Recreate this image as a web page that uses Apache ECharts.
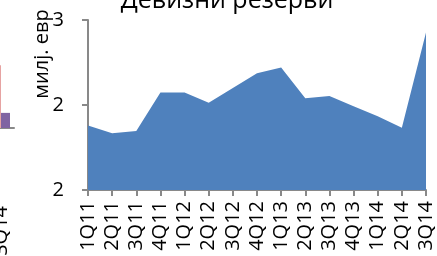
<!DOCTYPE html>
<html>
<head>
<meta charset="utf-8">
<script src="https://cdn.jsdelivr.net/npm/echarts@6/dist/echarts.min.js"></script>
<style>
  html, body { margin: 0; padding: 0; background: #fff; }
  #chart { width: 437px; height: 256px; }
</style>
</head>
<body>
<div id="chart"></div>
<script>
// quarters and reserves (bn EUR)
const quarters = ['1Q11', '2Q11', '3Q11', '4Q11', '1Q12', '2Q12', '3Q12', '4Q12',
  '1Q13', '2Q13', '3Q13', '4Q13', '1Q14', '2Q14', '3Q14']
const reserves = [2.07, 2.00, 2.02, 2.36, 2.36, 2.27, 2.40, 2.53,
  2.58, 2.31, 2.33, 2.24, 2.15, 2.05, 2.89]

// cut-off neighbour chart on the left edge
const prevCategories = ['3Q14']
const prevRed = [58]
const prevPurple = [14]

const font = '"Open Sans", "Noto Sans", sans-serif'
const axisGray = '#898989'

const chart = echarts.init(document.getElementById('chart'))

chart.setOption({
  animation: false,
  title: {
    text: 'Девизни резерви',
    left: 222,
    textAlign: 'center',
    top: -17,
    textStyle: { fontFamily: font, fontSize: 25, fontWeight: 'normal', color: '#000' }
  },
  graphic: [{
    type: 'text',
    x: 42,
    y: 54,
    rotation: Math.PI / 2,
    style: {
      text: 'милј. евр',
      font: '20px ' + font,
      fill: '#000',
      textAlign: 'center',
      textVerticalAlign: 'middle'
    }
  }],
  grid: [
    { left: 88, right: 11, top: 20, bottom: 66, outerBoundsMode: 'none' },
    { left: -12, width: 26, top: 20, bottom: 128, outerBoundsMode: 'none' }
  ],
  xAxis: [{
    type: 'category',
    gridIndex: 0,
    data: quarters,
    boundaryGap: false,
    axisLine: { lineStyle: { color: axisGray, width: 2 } },
    axisTick: { show: true, interval: 0, length: 6, lineStyle: { color: axisGray, width: 2 } },
    axisLabel: { interval: 0, rotate: 90, margin: 11, fontFamily: font, fontSize: 20, color: '#000' }
  }, {
    type: 'category',
    gridIndex: 1,
    data: prevCategories,
    axisLine: { lineStyle: { color: axisGray, width: 2 } },
    axisTick: { show: false },
    axisLabel: { interval: 0, rotate: 90, margin: 78, fontFamily: font, fontSize: 20, color: '#000' }
  }],
  yAxis: [{
    type: 'value',
    gridIndex: 0,
    min: 1.5,
    max: 3,
    interval: 0.75,
    splitLine: { show: false },
    axisLine: { show: true, lineStyle: { color: axisGray, width: 2 } },
    axisTick: { show: true, length: 6, lineStyle: { color: axisGray, width: 2 } },
    axisLabel: {
      margin: 24,
      fontFamily: font,
      fontSize: 20,
      color: '#000',
      formatter: v => String(Math.round(v))
    }
  }, {
    type: 'value',
    gridIndex: 1,
    min: 0,
    max: 100,
    show: false
  }],
  series: [{
    type: 'line',
    xAxisIndex: 0,
    yAxisIndex: 0,
    data: reserves,
    symbol: 'none',
    lineStyle: { width: 0 },
    areaStyle: { color: '#4F81BD', opacity: 1 },
    itemStyle: { color: '#4F81BD' }
  }, {
    type: 'bar',
    xAxisIndex: 1,
    yAxisIndex: 1,
    data: prevRed,
    barWidth: 9,
    barGap: 0,
    itemStyle: { color: '#E6A3A2' }
  }, {
    type: 'bar',
    xAxisIndex: 1,
    yAxisIndex: 1,
    data: prevPurple,
    barWidth: 9,
    barGap: 0,
    itemStyle: { color: '#8064A2' }
  }]
})
</script>
</body>
</html>
